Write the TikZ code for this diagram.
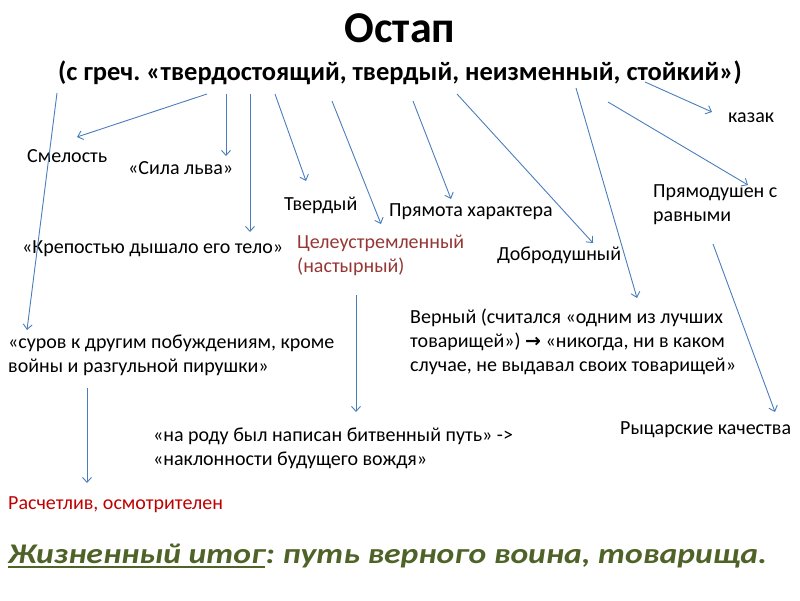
\documentclass[tikz,border=0pt]{standalone}
\usepackage{fontspec}
\setmainfont{Carlito}
\newfontfamily\itogfont[FakeStretch=1.18]{Carlito}
\newfontfamily\symfont{DejaVu Sans}
\usetikzlibrary{arrows.meta}

\definecolor{linkblue}{HTML}{4A7EBB}
\definecolor{aimred}{HTML}{953735}
\definecolor{calcred}{HTML}{C00000}
\definecolor{itoggreen}{HTML}{4F6228}

\tikzset{
	trait/.style={anchor=west, inner sep=0pt, align=left, font=\fontsize{20}{24}\selectfont},
	link/.style={draw=linkblue, line width=0.9pt, -{Straight Barb[length=5pt,width=9pt]}}
}
\frenchspacing

\begin{document}
\begin{tikzpicture}[x=1pt, y=-1pt]
	\useasboundingbox (0,0) rectangle (800,600);

	%% TITLE
	\node[inner sep=0pt, font=\bfseries\fontsize{44}{50}\selectfont](ostap) at (400,28){Остап};
	\node[inner sep=0pt, font=\bfseries\fontsize{26.5}{30}\selectfont](greek) at (400,73){(с греч. «твердостоящий, твердый, неизменный, стойкий»)};

	%% TRAITS
	\node[trait](smelost) at (27,156){Смелость};
	\node[trait](sila_lva) at (128,168){«Сила льва»};
	\node[trait](tverdy) at (284,205){Твердый};
	\node[trait](pryamota) at (389,212){Прямота характера};
	\node[trait](krepost) at (22,249){«Крепостью дышало его тело»};
	\node[trait, text=aimred](tseleustr) at (297,255){Целеустремленный\\(настырный)};
	\node[trait](dobrodush) at (497,255){Добродушный};
	\node[trait](kazak) at (728,118){казак};
	\node[trait](pryamodush) at (653,205){Прямодушен с\\равными};
	\node[trait](verny) at (410,342){Верный (считался «одним из лучших\\товарищей») {\symfont\bfseries\fontsize{19}{20}\selectfont →} «никогда, ни в каком\\случае, не выдавал своих товарищей»};
	\node[trait](surov) at (8,355){«суров к другим побуждениям, кроме\\войны и разгульной пирушки»};
	\node[trait](na_rodu) at (153,448){«на роду был написан битвенный путь» ->\\«наклонности будущего вождя»};
	\node[trait](rytsar) at (620,430){Рыцарские качества};
	\node[trait, text=calcred](raschetliv) at (8,505){Расчетлив, осмотрителен};

	%% LIFE RESULT
	\node[anchor=base west, inner sep=0pt, text=itoggreen, font=\itogfont\bfseries\itshape\fontsize{28.5}{32}\selectfont](itog_head) at (8,563){Жизненный итог};
	\node[anchor=base west, inner sep=0pt, text=itoggreen, font=\itogfont\bfseries\itshape\fontsize{28.5}{32}\selectfont](itog_tail) at (itog_head.base east){: путь верного воина, товарища.};
	\draw[itoggreen, line width=2pt] ([yshift=-4pt]itog_head.base west) -- ([yshift=-4pt]itog_head.base east);

	%% ARROW ENDS
	\coordinate (surov_from) at (57,93);      \coordinate (surov_to) at (27,330);
	\coordinate (smelost_from) at (207,94);   \coordinate (smelost_to) at (77,137);
	\coordinate (sila_from) at (226,94);      \coordinate (sila_to) at (226,156);
	\coordinate (krepost_from) at (250,94);   \coordinate (krepost_to) at (250,232);
	\coordinate (tverdy_from) at (275,94);    \coordinate (tverdy_to) at (306,181);
	\coordinate (tsel_from) at (332,101);     \coordinate (tsel_to) at (381,224);
	\coordinate (pryamota_from) at (413,101); \coordinate (pryamota_to) at (451,199);
	\coordinate (dobro_from) at (457,94);     \coordinate (dobro_to) at (593,243);
	\coordinate (verny_from) at (576,88);     \coordinate (verny_to) at (637,298);
	\coordinate (kazak_from) at (645,82);     \coordinate (kazak_to) at (712,112);
	\coordinate (pdush_from) at (608,102);    \coordinate (pdush_to) at (748,185);
	\coordinate (rytsar_from) at (713,244);   \coordinate (rytsar_to) at (775,412);
	\coordinate (rodu_from) at (356,295);     \coordinate (rodu_to) at (356,412);
	\coordinate (raschet_from) at (87,388);   \coordinate (raschet_to) at (87,483);

	\draw[link] (surov_from) -- (surov_to);
	\draw[link] (smelost_from) -- (smelost_to);
	\draw[link] (sila_from) -- (sila_to);
	\draw[link] (krepost_from) -- (krepost_to);
	\draw[link] (tverdy_from) -- (tverdy_to);
	\draw[link] (tsel_from) -- (tsel_to);
	\draw[link] (pryamota_from) -- (pryamota_to);
	\draw[link] (dobro_from) -- (dobro_to);
	\draw[link] (verny_from) -- (verny_to);
	\draw[link] (kazak_from) -- (kazak_to);
	\draw[link] (pdush_from) -- (pdush_to);
	\draw[link] (rytsar_from) -- (rytsar_to);
	\draw[link] (rodu_from) -- (rodu_to);
	\draw[link] (raschet_from) -- (raschet_to);

\end{tikzpicture}
\end{document}
